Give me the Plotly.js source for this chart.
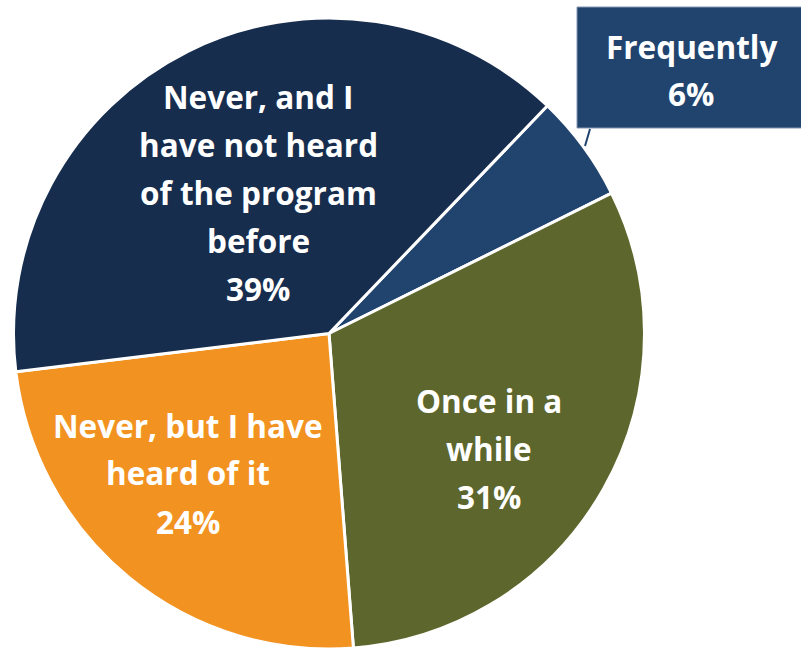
<!DOCTYPE html>
<html>
<head>
<meta charset="utf-8">
<script src="https://cdn.plot.ly/plotly-3.0.1.min.js"></script>
<style>html,body{margin:0;padding:0;background:#fff;}#chart{width:801px;height:649px;}</style>
</head>
<body>
<div id="chart"></div>
<script>
// ---- data ----
const categories = ["Frequently", "Once in a while", "Never, but I have heard of it", "Never, and I have not heard of the program before"];
// slice sizes
const values = [5.5, 31.1, 24.3, 39.1];
// percentage labels as printed on the chart
const pctLabels = ["6%", "31%", "24%", "39%"];
const labelLines = [
  ["Frequently"],
  ["Once in a", "while"],
  ["Never, but I have", "heard of it"],
  ["Never, and I", "have not heard", "of the program", "before"]
];
const colors = ["#21446F", "#5D662C", "#F29321", "#172D4E"];

// ---- layout helpers ----
const W = 801, H = 649;
const px = x => x / W;
const py = y => 1 - y / H;
// label block first-line centers (pixels) and spacing
const labelPos = [[691, 46], [489, 400], [188, 425], [258, 96]];
const lineGap = 48;
const fontFam = "'Open Sans', Lato, sans-serif";
const fontSize = 31.5;

const annotations = [];
labelLines.forEach((lines, i) => {
  const all = lines.concat([pctLabels[i]]);
  all.forEach((t, j) => {
    annotations.push({
      xref: "paper", yref: "paper",
      x: px(labelPos[i][0]), y: py(labelPos[i][1] + j * lineGap),
      xanchor: "center", yanchor: "middle",
      text: t, showarrow: false,
      font: {family: fontFam, size: fontSize, color: "#ffffff", weight: "bold"}
    });
  });
});

const trace = {
  type: "pie",
  labels: categories,
  values: values,
  sort: false,
  direction: "clockwise",
  rotation: 43.8,
  textinfo: "none",
  hoverinfo: "skip",
  marker: {colors: colors, line: {color: "#ffffff", width: 3}},
  domain: {x: [px(12), px(646)], y: [0, py(18)]},
  showlegend: false
};

const layout = {
  width: W, height: H,
  margin: {l: 0, r: 0, t: 0, b: 0},
  paper_bgcolor: "#ffffff",
  showlegend: false,
  shapes: [
    {type: "rect", xref: "paper", yref: "paper", x0: px(577), x1: px(806), y0: py(128), y1: py(7),
     fillcolor: "#21446F", line: {color: "#8496B0", width: 1}, layer: "above"},
    {type: "line", xref: "paper", yref: "paper", x0: px(590), y0: py(129), x1: px(585), y1: py(146),
     line: {color: "#21446F", width: 2}}
  ],
  annotations: annotations
};

Plotly.newPlot("chart", [trace], layout, {displayModeBar: false, staticPlot: true});
</script>
</body>
</html>
